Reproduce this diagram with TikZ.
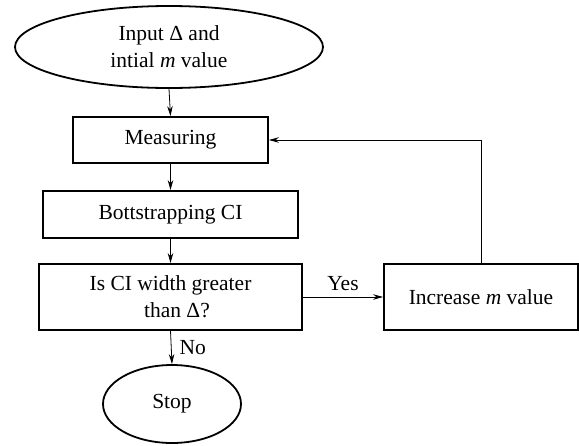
\documentclass[tikz,border=0pt]{standalone}
\usepackage{fontspec}
\setmainfont{Liberation Serif}
\usetikzlibrary{shapes.geometric,arrows.meta}
\begin{document}
\begin{tikzpicture}[x=1pt,y=1pt,
  every node/.style={font=\fontsize{21.5}{27}\selectfont},
  procbox/.style={draw,line width=1.8pt,inner sep=0pt,align=center},
  term/.style={draw,ellipse,line width=1.8pt,inner sep=0pt,align=center},
  conn/.style={line width=0.8pt,-{Stealth[length=10pt,width=5.5pt]}},
  lbl/.style={inner sep=0pt}]
\useasboundingbox (0,0) rectangle (579,-445);
\node[term,minimum width=308,minimum height=82] (inp) at (169,-47) {Input Δ and\\intial \textit{m} value};
\node[procbox,minimum width=195,minimum height=46] (meas) at (170.5,-140) {Measuring};
\node[procbox,minimum width=255,minimum height=47] (boot) at (170.5,-214.5) {Bottstrapping CI};
\node[procbox,minimum width=263,minimum height=66] (dec) at (170.5,-297) {Is CI width greater\\\hspace*{0.6em}than Δ?};
\node[procbox,minimum width=194,minimum height=66] (inc) at (481,-297) {Increase \textit{m} value};
\node[term,minimum width=138,minimum height=78] (stop) at (172,-404) {Stop};
\draw[conn] (inp.south) -- (meas.north);
\draw[conn] (meas.south) -- (boot.north);
\draw[conn] (boot.south) -- (dec.north);
\draw[conn] (dec.south) -- (stop.north) node[lbl,midway,right=8pt] (no) {No};
\draw[conn] (dec.east) -- (inc.west) node[lbl,midway,above=6pt] (yes) {Yes};
\draw[conn] (inc.north) |- (meas.east);
\end{tikzpicture}
\end{document}
